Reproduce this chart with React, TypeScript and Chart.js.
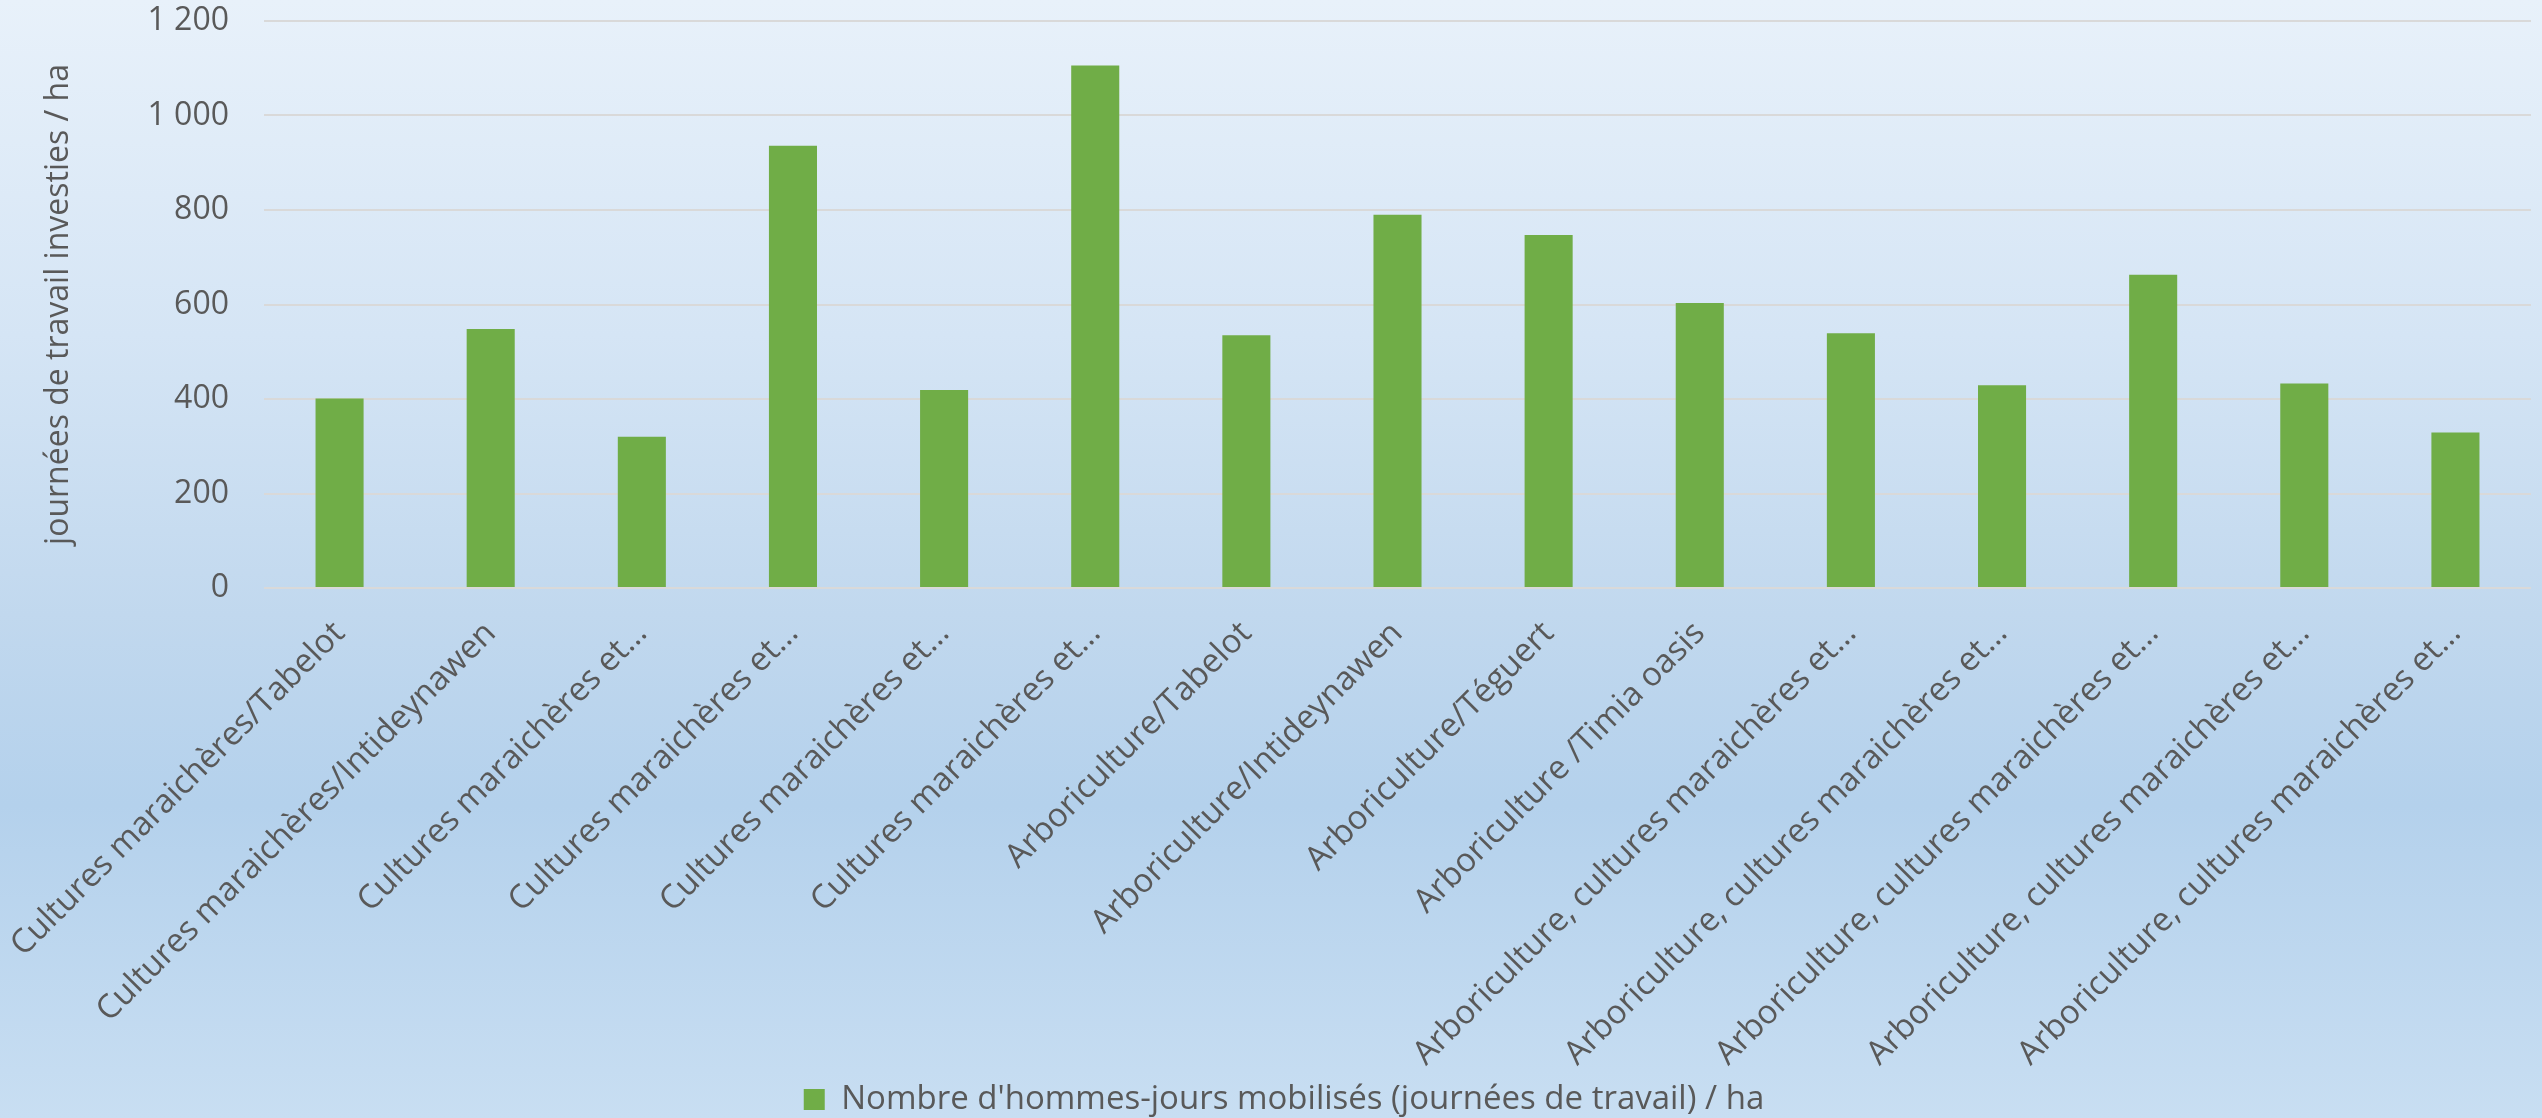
import React, { useEffect, useRef } from "react";
import { Chart, registerables } from "chart.js";

Chart.register(...registerables);

const categories: string[] = [
  "Cultures maraichères/Tabelot",
  "Cultures maraichères/Intideynawen",
  "Cultures maraichères et…",
  "Cultures maraichères et…",
  "Cultures maraichères et…",
  "Cultures maraichères et…",
  "Arboriculture/Tabelot",
  "Arboriculture/Intideynawen",
  "Arboriculture/Téguert",
  "Arboriculture /Timia oasis",
  "Arboriculture, cultures maraichères et…",
  "Arboriculture, cultures maraichères et…",
  "Arboriculture, cultures maraichères et…",
  "Arboriculture, cultures maraichères et…",
  "Arboriculture, cultures maraichères et…",
];

const values: number[] = [401, 548, 320, 936, 419, 1106, 535, 790, 747, 603, 539, 429, 663, 433, 329];

const seriesLabel = "Nombre d'hommes-jours mobilisés (journées de travail) / ha";
const yAxisTitle = "journées de travail investies / ha";
const yMin = 0;
const yMax = 1200;
const yStep = 200;

const TEXT = "#595959";
const FONT = "'Open Sans', 'DejaVu Sans', sans-serif";
const LEGEND_FONT = 33;
const LEGEND_H = 45;
const PAD_LEFT = 37;

const bgPlugin = {
  id: "bgGradient",
  beforeDraw(chart: any) {
    const { ctx, width, height } = chart;
    const g = ctx.createLinearGradient(0, 0, 0, height);
    g.addColorStop(0, "rgb(232,241,250)");
    g.addColorStop(0.3, "rgb(213,229,245)");
    g.addColorStop(0.55, "rgb(193,216,238)");
    g.addColorStop(0.72, "rgb(180,209,236)");
    g.addColorStop(1, "rgb(200,222,242)");
    ctx.save();
    ctx.fillStyle = g;
    ctx.fillRect(0, 0, width, height);
    ctx.restore();
  },
};

function formatThousands(v: number): string {
  return String(v).replace(/\B(?=(\d{3})+(?!\d))/g, " ");
}

export default function App() {
  const canvasRef = useRef<HTMLCanvasElement | null>(null);

  useEffect(() => {
    if (!canvasRef.current) return;
    const chart = new Chart(canvasRef.current, {
      type: "bar",
      data: {
        labels: categories,
        datasets: [
          {
            label: seriesLabel,
            data: values,
            backgroundColor: "#70ad47",
            borderWidth: 0,
            categoryPercentage: 1,
            barPercentage: 0.318,
          },
        ],
      },
      options: {
        animation: false,
        responsive: true,
        maintainAspectRatio: false,
        layout: { padding: { top: 21, right: 11, left: PAD_LEFT, bottom: 0 } },
        plugins: {
          legend: {
            position: "bottom",
            maxHeight: LEGEND_H,
            labels: {
              color: TEXT,
              font: { family: FONT, size: LEGEND_FONT },
              boxWidth: 21,
              boxHeight: 21,
              padding: 10,
            },
          },
          tooltip: { enabled: false },
        },
        scales: {
          x: {
            grid: { display: false, drawTicks: false },
            border: { display: false },
            ticks: {
              color: TEXT,
              font: { family: FONT, size: 33 },
              autoSkip: false,
              minRotation: 45,
              maxRotation: 45,
              padding: 26,
            },
            afterFit(scale: any) {
              scale.height = 1118 - 588 - LEGEND_H;
              scale.paddingLeft = 0;
              scale.paddingRight = 0;
            },
          },
          y: {
            min: yMin,
            max: yMax,
            border: { display: false },
            grid: { color: "#d9d9d9", lineWidth: 2, drawTicks: false },
            ticks: {
              stepSize: yStep,
              color: TEXT,
              font: { family: FONT, size: 32 },
              padding: 35,
              callback: (v: any) => formatThousands(Number(v)),
            },
            title: {
              display: true,
              text: yAxisTitle,
              color: TEXT,
              font: { family: FONT, size: 32 },
              padding: { top: 40 - PAD_LEFT, bottom: 0 },
            },
            afterFit(scale: any) {
              scale.width = 264 - PAD_LEFT;
              scale.paddingTop = 0;
              scale.paddingBottom = 0;
            },
          },
        },
      },
      plugins: [bgPlugin],
    });
    return () => chart.destroy();
  }, []);

  return (
    <div style={{ position: "fixed", left: 0, top: 0, width: 2542, height: 1118 }}>
      <canvas ref={canvasRef} />
    </div>
  );
}
